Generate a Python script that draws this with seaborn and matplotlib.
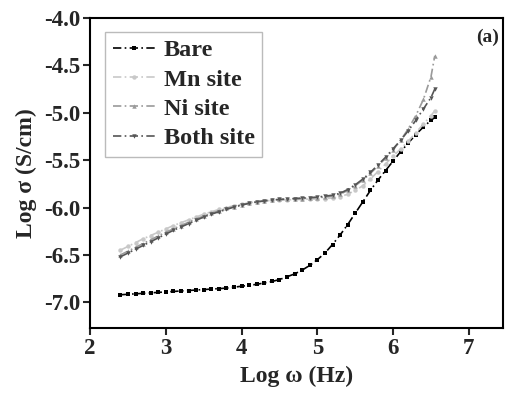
import pandas as pd
import matplotlib
matplotlib.use("Agg")
import matplotlib.pyplot as plt
import seaborn as sns

# log frequency grid (Hz)
log_w = [2.4, 2.5, 2.6, 2.7, 2.8, 2.9, 3.0, 3.1, 3.2, 3.3, 3.4, 3.5, 3.6, 3.7,
         3.8, 3.9, 4.0, 4.1, 4.2, 4.3, 4.4, 4.5, 4.6, 4.7, 4.8, 4.9, 5.0, 5.1,
         5.2, 5.3, 5.4, 5.5, 5.6, 5.7, 5.8, 5.9, 6.0, 6.1, 6.2, 6.3, 6.4, 6.5, 6.55]

bare = [-6.92, -6.915, -6.91, -6.905, -6.90, -6.895, -6.89, -6.885, -6.88, -6.875,
        -6.87, -6.865, -6.86, -6.855, -6.85, -6.84, -6.83, -6.82, -6.81, -6.795,
        -6.78, -6.76, -6.73, -6.70, -6.66, -6.61, -6.55, -6.48, -6.39, -6.29,
        -6.18, -6.06, -5.94, -5.82, -5.71, -5.61, -5.51, -5.41, -5.32, -5.23,
        -5.15, -5.08, -5.05]

mn_site = [-6.45, -6.41, -6.37, -6.33, -6.295, -6.26, -6.225, -6.19, -6.16, -6.13,
           -6.10, -6.07, -6.045, -6.02, -6.00, -5.98, -5.965, -5.95, -5.94, -5.93,
           -5.925, -5.92, -5.92, -5.915, -5.915, -5.91, -5.91, -5.905, -5.90, -5.885,
           -5.86, -5.82, -5.77, -5.70, -5.62, -5.54, -5.46, -5.38, -5.30, -5.21,
           -5.12, -5.03, -4.98]

ni_site = [-6.50, -6.46, -6.42, -6.38, -6.34, -6.30, -6.26, -6.225, -6.19, -6.155,
           -6.12, -6.09, -6.06, -6.035, -6.01, -5.99, -5.97, -5.955, -5.94, -5.93,
           -5.92, -5.915, -5.91, -5.91, -5.905, -5.90, -5.895, -5.89, -5.88, -5.86,
           -5.82, -5.77, -5.71, -5.64, -5.56, -5.48, -5.39, -5.29, -5.17, -5.03,
           -4.86, -4.62, -4.40]

both_site = [-6.52, -6.48, -6.44, -6.40, -6.36, -6.32, -6.28, -6.24, -6.205, -6.17,
             -6.135, -6.10, -6.07, -6.045, -6.02, -5.995, -5.975, -5.955, -5.94, -5.93,
             -5.92, -5.915, -5.91, -5.905, -5.90, -5.895, -5.89, -5.88, -5.87, -5.85,
             -5.81, -5.76, -5.70, -5.63, -5.55, -5.47, -5.38, -5.29, -5.19, -5.08,
             -4.96, -4.84, -4.75]

labels = ["Bare", "Mn site", "Ni site", "Both site"]
colors = ["#000000", "#c8c8c8", "#9a9a9a", "#555555"]
markers = ["s", "o", "^", "v"]

frames = []
for name, vals in zip(labels, [bare, mn_site, ni_site, both_site]):
    frames.append(pd.DataFrame({"x": log_w, "y": vals, "sample": name}))
data = pd.concat(frames, ignore_index=True)

sns.set_theme(style="ticks")
plt.rcParams["font.family"] = ["Liberation Serif", "DejaVu Serif"]
plt.rcParams["font.weight"] = "bold"

fig = plt.figure(figsize=(5.06, 3.98), dpi=100)
ax = fig.add_axes([0.178, 0.176, 0.816, 0.779])

for name, col, mk in zip(labels, colors, markers):
    sub = data[data["sample"] == name]
    sns.lineplot(data=sub, x="x", y="y", ax=ax, color=col, marker=mk,
                 markersize=3.2, markeredgewidth=0, linewidth=1.2,
                 linestyle=(0, (5, 2, 1, 2)), label=name, sort=False)

ax.set_xlim(2, 7.45)
ax.set_ylim(-7.27, -4.0)
ax.set_xticks([2, 3, 4, 5, 6, 7])
ax.set_yticks([-7.0, -6.5, -6.0, -5.5, -5.0, -4.5, -4.0])
ax.set_yticklabels(["-7.0", "-6.5", "-6.0", "-5.5", "-5.0", "-4.5", "-4.0"])
ax.tick_params(direction="out", length=5, width=1.5, labelsize=16.5, pad=2)
for lab in ax.get_xticklabels() + ax.get_yticklabels():
    lab.set_fontweight("bold")
for sp in ax.spines.values():
    sp.set_linewidth(1.5)
    sp.set_color("black")

ax.set_xlabel("Log \u03c9 (Hz)", fontsize=17, fontweight="bold", labelpad=5)
ax.set_ylabel("Log \u03c3 (S/cm)", fontsize=17, fontweight="bold", labelpad=5)

ax.text(0.99, 0.965, "(a)", transform=ax.transAxes, ha="right", va="top",
        fontsize=14, fontweight="bold")

leg = ax.legend(loc="upper left", bbox_to_anchor=(0.025, 0.97), frameon=True,
                fancybox=False, prop={"size": 17.5, "weight": "bold"},
                handlelength=1.8, handletextpad=0.3, labelspacing=0.3,
                borderpad=0.3, borderaxespad=0.2)
leg.get_frame().set_edgecolor("#aaaaaa")
leg.get_frame().set_linewidth(1.0)

fig.savefig("out.png", dpi=100)
